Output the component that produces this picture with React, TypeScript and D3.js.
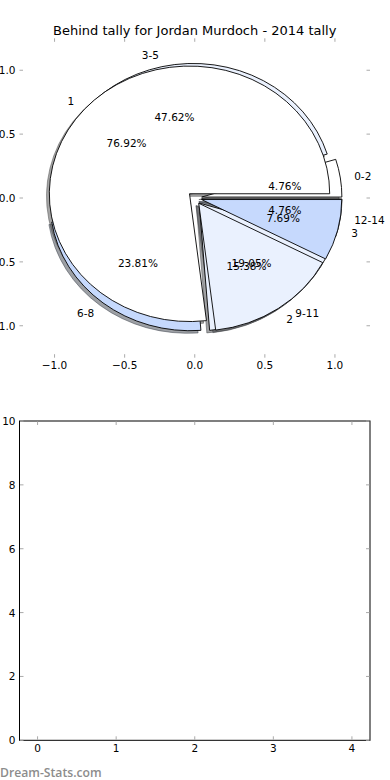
import React from "react";
import * as d3 from "d3";

// tally groups (outer pie) and their counts
const tallyLabels = ["0-2", "3-5", "6-8", "9-11", "12-14"];
const tallyValues = [1, 10, 5, 4, 1];
const tallyColors = ["#ffffff", "#eaf1fe", "#c6d9fd", "#eaf1fe", "#c6d9fd"];

// behinds per game (second pie drawn on the same axes)
const behindLabels = ["1", "2", "3"];
const behindValues = [10, 2, 1];
const behindColors = ["#ffffff", "#eaf1fe", "#c6d9fd"];

const pieTicks = [-1.0, -0.5, 0.0, 0.5, 1.0];
const emptyXTicks = [0, 1, 2, 3, 4];
const emptyYTicks = [0, 2, 4, 6, 8, 10];

const title = "Behind tally for Jordan Murdoch - 2014 tally";
const watermark = "Dream-Stats.com";

const W = 390;
const H = 780;
const EXPLODE = 0.05;
const FONT = "DejaVu Sans";

const x = d3.scaleLinear().domain([-1.25, 1.25]).range([19.5, 370]);
const y = d3.scaleLinear().domain([-1.25, 1.25]).range([357.7, 38.3]);
const x2 = d3.scaleLinear().domain([-0.23, 4.23]).range([19.5, 370]);
const y2 = d3.scaleLinear().domain([0, 10]).range([740.3, 421]);

const arcGen = d3.arc<any>().innerRadius(0).outerRadius(1);
const pieGen = d3
  .pie<number>()
  .sort(null)
  .startAngle(Math.PI / 2)
  .endAngle(Math.PI / 2 + 2 * Math.PI);

const fmt = (v: number) => v.toFixed(1).replace("-", "\u2212");

function buildPie(values: number[], labels: string[], colors: string[]) {
  const total = d3.sum(values);
  return pieGen(values).map((a, i) => {
    const theta = (a.startAngle + a.endAngle) / 2 - Math.PI / 2;
    const cx = EXPLODE * Math.cos(theta);
    const cy = EXPLODE * Math.sin(theta);
    const c = d3.rgb(colors[i]);
    const shadow = d3.rgb(c.r * 0.3, c.g * 0.3, c.b * 0.3).toString();
    return {
      d: arcGen(a) as string,
      cx,
      cy,
      color: colors[i],
      shadow,
      label: labels[i],
      lx: cx + 1.1 * Math.cos(theta),
      ly: cy + 1.1 * Math.sin(theta),
      px: cx + 0.6 * Math.cos(theta),
      py: cy + 0.6 * Math.sin(theta),
      pct: ((values[i] / total) * 100).toFixed(2) + "%",
    };
  });
}

const App = () => {
  const pies = [
    buildPie(tallyValues, tallyLabels, tallyColors),
    buildPie(behindValues, behindLabels, behindColors),
  ];
  const wedges = pies.flat();
  const sx = x(1) - x(0);
  const sy = y(0) - y(1);
  const origin = `translate(${x(0)},${y(0)}) scale(${sx},${-sy})`;

  return (
    <svg
      width={W}
      height={H}
      style={{ position: "absolute", left: 0, top: 0, background: "#fff" }}
      fontFamily={FONT}
    >
      <rect width={W} height={H} fill="#fff" />

      {/* pie axes */}
      <g transform={origin}>
        {wedges.map((w, i) => (
          <path
            key={"s" + i}
            d={w.d}
            transform={`translate(${w.cx - 0.02},${w.cy - 0.02})`}
            fill={w.shadow}
            fillOpacity={0.5}
            stroke={w.shadow}
            strokeOpacity={0.5}
            strokeWidth={1}
            vectorEffect="non-scaling-stroke"
          />
        ))}
        {wedges.map((w, i) => (
          <path
            key={"w" + i}
            d={w.d}
            transform={`translate(${w.cx},${w.cy})`}
            fill={w.color}
            stroke="#000"
            strokeWidth={0.9}
            strokeLinejoin="round"
            vectorEffect="non-scaling-stroke"
          />
        ))}
      </g>
      {wedges.map((w, i) => (
        <g key={"t" + i} fontSize={10.5} fill="#000">
          <text
            x={x(w.lx)}
            y={y(w.ly)}
            textAnchor={w.lx > 0 ? "start" : "end"}
            dominantBaseline="central"
          >
            {w.label}
          </text>
          <text x={x(w.px)} y={y(w.py)} textAnchor="middle" dominantBaseline="central">
            {w.pct}
          </text>
        </g>
      ))}

      {/* pie axes ticks (no frame) */}
      <g stroke="#aaa" strokeWidth={1}>
        {pieTicks.map((t) => (
          <g key={"pt" + t}>
            <line x1={x(t)} x2={x(t)} y1={y.range()[1]} y2={y.range()[1] + 3.5} />
            <line x1={x(t)} x2={x(t)} y1={y.range()[0]} y2={y.range()[0] - 3.5} />
            <line x1={x.range()[0]} x2={x.range()[0] + 3.5} y1={y(t)} y2={y(t)} />
            <line x1={x.range()[1]} x2={x.range()[1] - 3.5} y1={y(t)} y2={y(t)} />
          </g>
        ))}
      </g>
      <g fontSize={10.5} fill="#000">
        {pieTicks.map((t) => (
          <text
            key={"px" + t}
            x={x(t)}
            y={y.range()[0] + 7}
            textAnchor="middle"
            dominantBaseline="central"
          >
            {fmt(t)}
          </text>
        ))}
        {pieTicks.map((t) => (
          <text
            key={"py" + t}
            x={x.range()[0] - 4}
            y={y(t)}
            textAnchor="end"
            dominantBaseline="central"
          >
            {fmt(t)}
          </text>
        ))}
      </g>
      <text x={(x.range()[0] + x.range()[1]) / 2} y={30} fontSize={13} textAnchor="middle" dominantBaseline="central">
        {title}
      </text>

      {/* empty second axes */}
      <rect
        x={x2.range()[0]}
        y={y2.range()[1]}
        width={x2.range()[1] - x2.range()[0]}
        height={y2.range()[0] - y2.range()[1]}
        fill="none"
        stroke="#000"
        strokeWidth={1}
      />
      <g stroke="#aaa" strokeWidth={1}>
        {emptyXTicks.map((t) => (
          <g key={"ex" + t}>
            <line x1={x2(t)} x2={x2(t)} y1={y2.range()[1] + 0.5} y2={y2.range()[1] + 4} />
            <line x1={x2(t)} x2={x2(t)} y1={y2.range()[0] - 0.5} y2={y2.range()[0] - 4} />
          </g>
        ))}
        {emptyYTicks.map((t) => (
          <g key={"ey" + t}>
            <line x1={x2.range()[0] + 0.5} x2={x2.range()[0] + 4} y1={y2(t)} y2={y2(t)} />
            <line x1={x2.range()[1] - 0.5} x2={x2.range()[1] - 4} y1={y2(t)} y2={y2(t)} />
          </g>
        ))}
      </g>
      <g fontSize={10.5} fill="#000">
        {emptyXTicks.map((t) => (
          <text key={"exl" + t} x={x2(t)} y={y2.range()[0] + 8} textAnchor="middle" dominantBaseline="central">
            {t}
          </text>
        ))}
        {emptyYTicks.map((t) => (
          <text key={"eyl" + t} x={x2.range()[0] - 4} y={y2(t)} textAnchor="end" dominantBaseline="central">
            {t}
          </text>
        ))}
      </g>

      <text x={0} y={777} fontFamily="Open Sans" fontWeight={600} fontSize={12.2} fill="#8c8c8c">
        {watermark}
      </text>
    </svg>
  );
};

export default App;
